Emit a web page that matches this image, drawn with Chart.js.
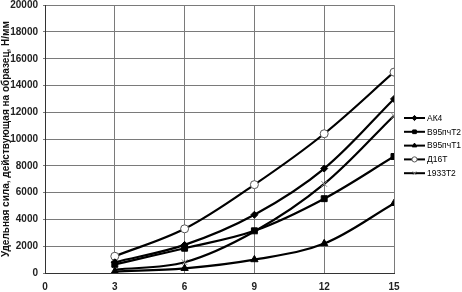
<!DOCTYPE html>
<html>
<head>
<meta charset="utf-8">
<script src="https://cdn.jsdelivr.net/npm/chart.js@4/dist/chart.umd.min.js"></script>
<style>
  html, body { margin: 0; padding: 0; background: #fff; }
  #wrap { width: 462px; height: 292px; }
</style>
</head>
<body>
<div id="wrap"><canvas id="forceChart"></canvas></div>
<script>
// abscissa values
const xValues = [3, 6, 9, 12, 15];

// series, N/mm
const ak4 = [800, 2100, 4350, 7800, 13000];
const v95T2 = [650, 1850, 3150, 5550, 8700];
const v95T1 = [120, 350, 1000, 2200, 5200];
const d16T = [1250, 3300, 6600, 10400, 15000];
const s1933T2 = [250, 800, 3100, 6650, 11750];

const seriesNames = ['АК4', 'В95пчТ2', 'В95пчТ1', 'Д16Т', '1933Т2'];
const xTicks = [0, 3, 6, 9, 12, 15];
const yAxisTitle = 'Удельная сила, действующая на образец, Н/мм';

function toPoints(values) {
    return values.map((v, i) => ({ x: xValues[i], y: v }));
}

document.addEventListener('DOMContentLoaded', function () {
    const ctx = document.getElementById('forceChart').getContext('2d');
    const tickFont = { family: 'Liberation Sans, Arial, sans-serif', size: 10, weight: 'bold' };

    const base = {
        borderColor: '#000',
        borderWidth: 2.2,
        tension: 0.35,
        fill: false,
        pointBorderColor: '#000',
        pointBackgroundColor: '#000',
        pointBorderWidth: 1
    };

    const datasets = [
        Object.assign({}, base, { label: seriesNames[0], data: toPoints(ak4), pointStyle: 'rectRot', pointRadius: 3.5 }),
        Object.assign({}, base, { label: seriesNames[1], data: toPoints(v95T2), pointStyle: 'rect', pointRadius: 4.2 }),
        Object.assign({}, base, { label: seriesNames[2], data: toPoints(v95T1), pointStyle: 'triangle', pointRadius: 4.2 }),
        Object.assign({}, base, { label: seriesNames[3], data: toPoints(d16T), pointStyle: 'circle', pointRadius: 4,
            pointBackgroundColor: '#fff', pointBorderColor: '#555' }),
        Object.assign({}, base, { label: seriesNames[4], data: toPoints(s1933T2), pointStyle: 'crossRot', pointRadius: 4,
            pointBorderColor: '#888' })
    ];

    // legend drawn with a line sample and the dataset's own marker
    const sideLegend = {
        id: 'sideLegend',
        afterDraw(chart) {
            const c = chart.ctx;
            c.save();
            c.font = '8.5px Liberation Sans, Arial, sans-serif';
            c.fillStyle = '#000';
            c.textBaseline = 'middle';
            chart.data.datasets.forEach((ds, i) => {
                const y = 118 + i * 13.8;
                c.strokeStyle = '#000';
                c.lineWidth = 2;
                c.beginPath();
                c.moveTo(404, y);
                c.lineTo(425, y);
                c.stroke();
                c.fillStyle = ds.pointBackgroundColor;
                c.strokeStyle = ds.pointBorderColor;
                c.lineWidth = 1;
                Chart.helpers.drawPoint(c, { pointStyle: ds.pointStyle, radius: 2.6, rotation: 0, borderWidth: 1 }, 414.5, y);
                c.fillStyle = '#000';
                c.fillText(ds.label, 427, y + 0.5);
            });
            c.restore();
        }
    };

    new Chart(ctx, {
        type: 'line',
        data: { datasets: datasets },
        options: {
            responsive: true,
            maintainAspectRatio: false,
            animation: false,
            layout: { padding: { top: 1, right: 68, left: 0, bottom: 0 } },
            plugins: {
                legend: { display: false },
                tooltip: { enabled: false }
            },
            scales: {
                x: {
                    type: 'linear',
                    min: 0,
                    max: 15,
                    afterBuildTicks: scale => { scale.ticks = xTicks.map(v => ({ value: v })); },
                    afterFit: scale => {
                        scale.height = 19;
                        scale.paddingLeft = 0;
                        scale.paddingRight = 0;
                    },
                    grid: {
                        color: c2 => c2.tick && c2.tick.value === 0 ? 'rgba(0,0,0,0)' : '#7a7a7a',
                        lineWidth: 1,
                        drawTicks: false
                    },
                    border: { color: '#333', width: 1 },
                    ticks: { font: tickFont, color: '#222', padding: 8, maxRotation: 0 }
                },
                y: {
                    min: 0,
                    max: 20000,
                    ticks: {
                        stepSize: 2000,
                        font: tickFont,
                        color: '#222',
                        padding: 5,
                        callback: v => String(v)
                    },
                    afterFit: scale => {
                        scale.width = 45;
                        scale.paddingTop = 0;
                        scale.paddingBottom = 0;
                    },
                    grid: { color: '#7a7a7a', lineWidth: 1, drawTicks: true, tickLength: 2 },
                    border: { color: '#333', width: 1 },
                    title: {
                        display: true,
                        text: yAxisTitle,
                        font: { family: 'Liberation Sans, Arial, sans-serif', size: 10, weight: 'bold' },
                        color: '#111',
                        padding: 0
                    }
                }
            }
        },
        plugins: [sideLegend]
    });
});
</script>
</body>
</html>
